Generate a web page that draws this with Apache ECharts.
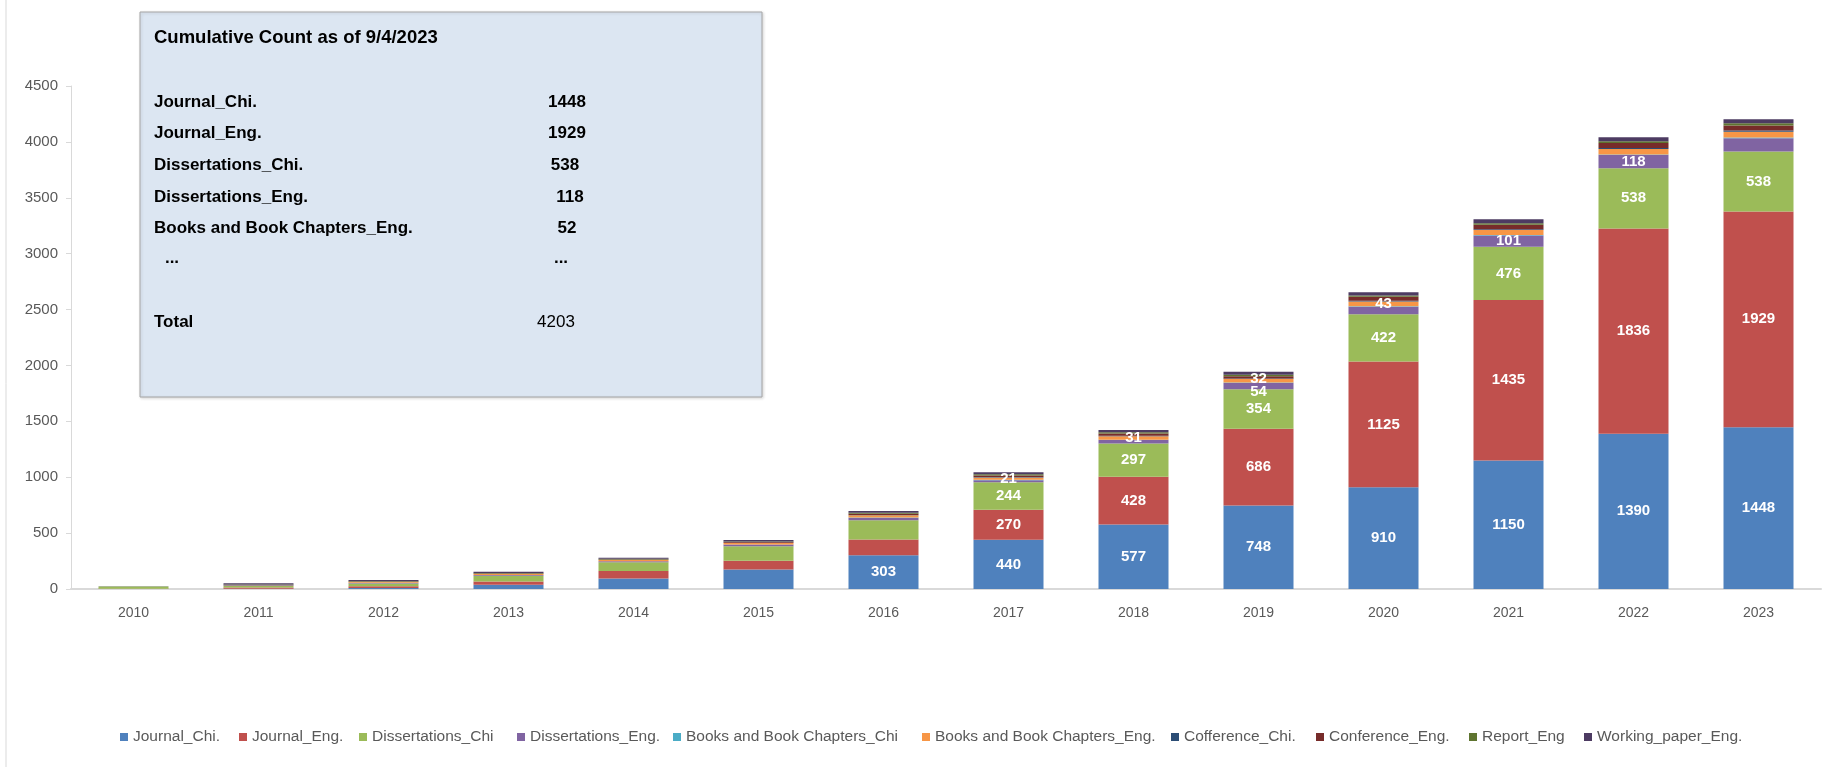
<!DOCTYPE html>
<html>
<head>
<meta charset="utf-8">
<script src="https://cdn.jsdelivr.net/npm/echarts@6/dist/echarts.min.js"></script>
<style>
html,body{margin:0;padding:0;background:#fff;}
#chart{width:1832px;height:767px;}
</style>
</head>
<body>
<div id="chart"></div>
<script>
// ---- Data (cumulative counts) ----
const years = ['2010','2011','2012','2013','2014','2015','2016','2017','2018','2019','2020','2021','2022','2023'];
const journalChi   = [0, 2, 10, 38, 95, 175, 303, 440, 577, 748, 910, 1150, 1390, 1448];
const journalEng   = [2, 12, 14, 30, 65, 78, 140, 270, 428, 686, 1125, 1435, 1836, 1929];
const dissChi      = [15, 15, 25, 50, 80, 130, 173, 244, 297, 354, 422, 476, 538, 538];
const dissEng      = [0, 5, 7, 7, 8, 14, 20, 20, 30, 54, 68, 101, 118, 118];
const booksChi     = [0, 0, 0, 1, 1, 2, 3, 3, 4, 5, 5, 5, 5, 6];
const booksEng     = [0, 0, 6, 8, 10, 12, 20, 21, 31, 32, 43, 45, 50, 52];
const confChi      = [0, 0, 0, 1, 1, 2, 3, 4, 5, 5, 6, 7, 8, 10];
const confEng      = [0, 2, 4, 4, 5, 8, 12, 14, 20, 20, 35, 40, 45, 45];
const reportEng    = [5, 5, 5, 5, 5, 5, 8, 10, 10, 12, 12, 14, 16, 20];
const workingPaper = [0, 10, 10, 10, 10, 12, 16, 19, 21, 28, 28, 34, 35, 37];

const seriesNames = ['Journal_Chi.','Journal_Eng.','Dissertations_Chi','Dissertations_Eng.','Books and Book Chapters_Chi','Books and Book Chapters_Eng.','Cofference_Chi.','Conference_Eng.','Report_Eng','Working_paper_Eng.'];
const seriesData = [journalChi, journalEng, dissChi, dissEng, booksChi, booksEng, confChi, confEng, reportEng, workingPaper];
const seriesColors = ['#4f81bd','#c0504d','#9bbb59','#8064a2','#4bacc6','#f79646','#2c4d75','#772c2a','#5f7530','#4d3b62'];

// which segments carry value labels
const labelYearsJournalChi = ['2016','2017','2018','2019','2020','2021','2022','2023'];
const labelYearsJournalEng = ['2017','2018','2019','2020','2021','2022','2023'];
const labelYearsDissChi    = ['2017','2018','2019','2020','2021','2022','2023'];
const labelYearsDissEng    = ['2019','2021','2022'];
const labelYearsBooksEng   = ['2017','2018','2019','2020'];
const labelYears = [labelYearsJournalChi, labelYearsJournalEng, labelYearsDissChi, labelYearsDissEng, [], labelYearsBooksEng, [], [], [], []];

// text box contents
const boxTitle = 'Cumulative Count as of 9/4/2023';
const boxRows = ['Journal_Chi.','Journal_Eng.','Dissertations_Chi.','Dissertations_Eng.','Books and Book Chapters_Eng.'];
const boxValues = ['1448','1929','538','118','52'];
const boxTotal = '4203';

const FONT = '"Liberation Sans", Arial, sans-serif';

// legend item left positions (layout only)
const legendLefts = [120, 239, 359, 517, 673, 922, 1171, 1316, 1469, 1584];

const series = seriesNames.map((name, si) => ({
  name: name,
  type: 'bar',
  stack: 'total',
  barCategoryGap: '44%',
  itemStyle: { color: seriesColors[si] },
  emphasis: { disabled: true },
  data: seriesData[si].map((v, i) => {
    const show = labelYears[si].indexOf(years[i]) >= 0;
    const item = { value: v };
    if (show) {
      item.label = { show: true };
      if (si === 3 && years[i] === '2019') item.label.offset = [0, 6];
      if (si === 5 && years[i] === '2019') item.label.offset = [0, -2];
    }
    return item;
  }),
  label: {
    show: false,
    position: 'inside',
    color: '#ffffff',
    fontFamily: FONT,
    fontWeight: 'bold',
    fontSize: 15
  }
}));

const graphics = [
  { type: 'line', shape: { x1: 6, y1: 0, x2: 6, y2: 767 }, style: { stroke: '#d9d9d9', lineWidth: 1 } },
  { type: 'rect', shape: { x: 140, y: 12, width: 622, height: 385 }, style: { fill: '#dce6f2', stroke: '#a6a6a6', lineWidth: 1, shadowBlur: 3, shadowColor: 'rgba(0,0,0,0.15)', shadowOffsetX: 1, shadowOffsetY: 1 }, z: 10 },
  { type: 'text', x: 154, y: 38, style: { text: boxTitle, fill: '#000', font: 'bold 18.5px ' + FONT, textVerticalAlign: 'middle' }, z: 11 }
];
const rowY = [102, 133, 165, 197, 228];
const valX = [567, 567, 565, 570, 567];
boxRows.forEach((r, i) => {
  graphics.push({ type: 'text', x: 154, y: rowY[i], style: { text: r, fill: '#000', font: 'bold 17px ' + FONT, textVerticalAlign: 'middle' }, z: 11 });
  graphics.push({ type: 'text', x: valX[i], y: rowY[i], style: { text: boxValues[i], fill: '#000', font: 'bold 17px ' + FONT, textAlign: 'center', textVerticalAlign: 'middle' }, z: 11 });
});
graphics.push({ type: 'text', x: 172, y: 258, style: { text: '...', fill: '#000', font: 'bold 17px ' + FONT, textAlign: 'center', textVerticalAlign: 'middle' }, z: 11 });
graphics.push({ type: 'text', x: 561, y: 258, style: { text: '...', fill: '#000', font: 'bold 17px ' + FONT, textAlign: 'center', textVerticalAlign: 'middle' }, z: 11 });
graphics.push({ type: 'text', x: 154, y: 322, style: { text: 'Total', fill: '#000', font: 'bold 17px ' + FONT, textVerticalAlign: 'middle' }, z: 11 });
graphics.push({ type: 'text', x: 556, y: 322, style: { text: boxTotal, fill: '#000', font: '17px ' + FONT, textAlign: 'center', textVerticalAlign: 'middle' }, z: 11 });

const legends = seriesNames.map((n, i) => ({
  data: [n],
  left: legendLefts[i],
  top: 729,
  icon: 'rect',
  itemWidth: 8,
  itemHeight: 8,
  padding: 0,
  textStyle: { color: '#595959', fontSize: 15.5, fontFamily: FONT }
}));

const chart = echarts.init(document.getElementById('chart'), null, { renderer: 'canvas' });
chart.setOption({
  animation: false,
  backgroundColor: '#ffffff',
  textStyle: { fontFamily: FONT },
  grid: { left: 71, right: 11, top: 86, bottom: 178, containLabel: false },
  legend: legends,
  xAxis: {
    type: 'category',
    data: years,
    axisLine: { lineStyle: { color: '#d9d9d9', width: 2 } },
    axisTick: { show: false },
    axisLabel: { color: '#595959', fontSize: 14, margin: 17, fontFamily: FONT }
  },
  yAxis: {
    type: 'value',
    min: 0,
    max: 4500,
    interval: 500,
    axisLine: { show: true, lineStyle: { color: '#d9d9d9' } },
    axisTick: { show: true, length: 5, lineStyle: { color: '#d9d9d9' } },
    splitLine: { show: false },
    axisLabel: { color: '#595959', fontSize: 15, margin: 13, fontFamily: FONT, formatter: (v) => String(v) }
  },
  series: series,
  graphic: graphics
});
</script>
</body>
</html>
